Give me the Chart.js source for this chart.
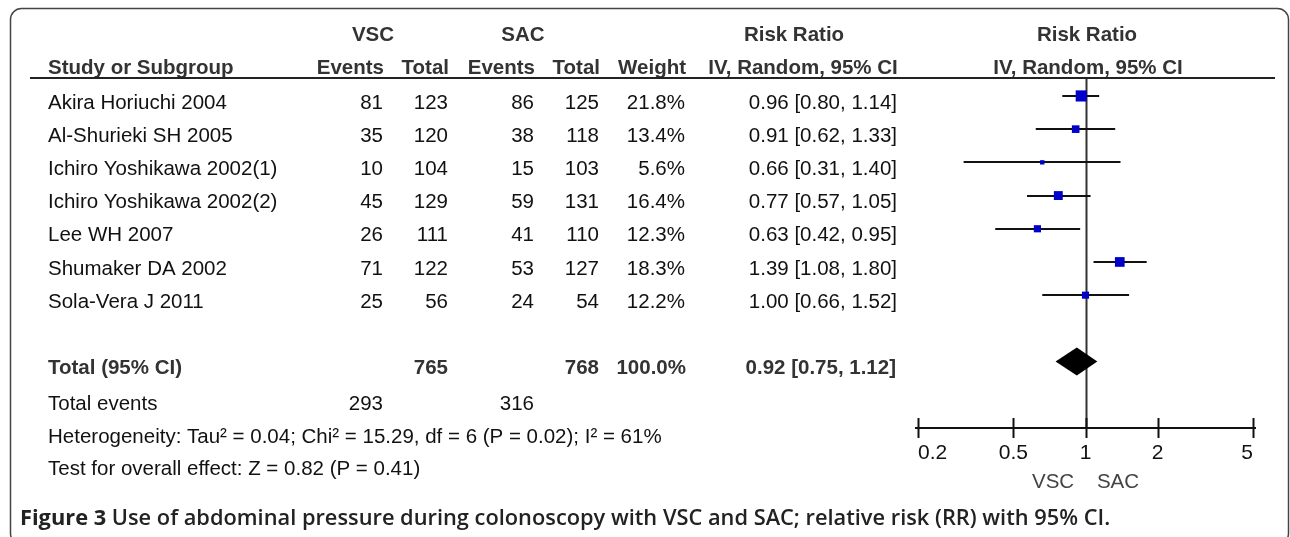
<!DOCTYPE html>
<html>
<head>
<meta charset="utf-8">
<script src="https://cdn.jsdelivr.net/npm/chart.js@4.4.1/dist/chart.umd.min.js"></script>
<style>
  body { margin: 0; background: #fff; }
  #wrap { width: 1290px; height: 537px; position: relative; }
</style>
</head>
<body>
<div id="wrap"><canvas id="forest"></canvas></div>
<script>
// study rows
const studies = [
  "Akira Horiuchi 2004",
  "Al-Shurieki SH 2005",
  "Ichiro Yoshikawa 2002(1)",
  "Ichiro Yoshikawa 2002(2)",
  "Lee WH 2007",
  "Shumaker DA 2002",
  "Sola-Vera J 2011",
];
const vscEvents = [81, 35, 10, 45, 26, 71, 25];
const vscTotal = [123, 120, 104, 129, 111, 122, 56];
const sacEvents = [86, 38, 15, 59, 41, 53, 24];
const sacTotal = [125, 118, 103, 131, 110, 127, 54];
const weights = [21.8, 13.4, 5.6, 16.4, 12.3, 18.3, 12.2];
const riskRatio = [0.96, 0.91, 0.66, 0.77, 0.63, 1.39, 1.0];
const ciLower = [0.8, 0.62, 0.31, 0.57, 0.42, 1.08, 0.66];
const ciUpper = [1.14, 1.33, 1.4, 1.05, 0.95, 1.8, 1.52];

// pooled result
const pooled = [0.92, 0.75, 1.12]; // estimate, lower, upper
const pooledTotals = [765, 768];
const pooledWeight = "100.0%";
const totalEvents = [293, 316];
const heterogeneityText =
  "Heterogeneity: Tau² = 0.04; Chi² = 15.29, df = 6 (P = 0.02); I² = 61%";
const overallText = "Test for overall effect: Z = 0.82 (P = 0.41)";

const tickValues = [0.2, 0.5, 1, 2, 5];
const captionBold = "Figure 3";
const captionText =
  " Use of abdominal pressure during colonoscopy with VSC and SAC; relative risk (RR) with 95% CI.";

const FONT = "'Liberation Sans', Arial, sans-serif";
const TOTAL_ROW = 8;

const fmt = (v) => v.toFixed(2);
const rrLabel = (i) =>
  `${fmt(riskRatio[i])} [${fmt(ciLower[i])}, ${fmt(ciUpper[i])}]`;

// square side grows with the weight
const squareRadius = weights.map((w) => (2 + 0.42 * w) / Math.SQRT2);

const text = (ctx, str, x, y, align, font, color) => {
  ctx.font = font;
  ctx.fillStyle = color;
  ctx.textAlign = align;
  ctx.textBaseline = "middle";
  ctx.fillText(str, x, y);
};

// whiskers, line of no effect, pooled diamond
const forestPlugin = {
  id: "forestMarks",
  beforeDatasetsDraw(chart) {
    const { ctx, scales, chartArea } = chart;
    const x = scales.x;
    const y = scales.y;
    ctx.save();
    // line of no effect
    const x1 = Math.round(x.getPixelForValue(1)) + 0.5;
    ctx.strokeStyle = "#333";
    ctx.lineWidth = 2;
    ctx.beginPath();
    ctx.moveTo(x1, chartArea.top);
    ctx.lineTo(x1, chartArea.bottom);
    ctx.stroke();
    // confidence intervals
    ctx.strokeStyle = "#111";
    ctx.lineWidth = 2;
    studies.forEach((s, i) => {
      const py = Math.round(y.getPixelForValue(i));
      ctx.beginPath();
      ctx.moveTo(x.getPixelForValue(ciLower[i]), py);
      ctx.lineTo(x.getPixelForValue(ciUpper[i]), py);
      ctx.stroke();
    });
    // diamond
    const dy = y.getPixelForValue(TOTAL_ROW);
    ctx.fillStyle = "#000";
    ctx.beginPath();
    ctx.moveTo(x.getPixelForValue(pooled[1]), dy);
    ctx.lineTo(x.getPixelForValue(pooled[0]), dy - 14);
    ctx.lineTo(x.getPixelForValue(pooled[2]), dy);
    ctx.lineTo(x.getPixelForValue(pooled[0]), dy + 14);
    ctx.closePath();
    ctx.fill();
    // x axis line with ticks crossing it
    ctx.strokeStyle = "#111";
    ctx.lineWidth = 2;
    const ay = chartArea.bottom;
    ctx.beginPath();
    ctx.moveTo(x.getPixelForValue(tickValues[0]) - 3, ay);
    ctx.lineTo(x.getPixelForValue(tickValues[tickValues.length - 1]) + 3, ay);
    tickValues.forEach((t) => {
      const tx = Math.round(x.getPixelForValue(t)) + 0.5;
      ctx.moveTo(tx, ay - 10);
      ctx.lineTo(tx, ay + 10);
    });
    ctx.stroke();
    ctx.restore();
  },
  afterDraw(chart) {
    const { ctx, scales } = chart;
    const y = scales.y;
    const head = `bold 20.5px ${FONT}`;
    const body = `20.5px ${FONT}`;
    const headColor = "#333";
    const bodyColor = "#111";
    ctx.save();

    // frame
    ctx.strokeStyle = "#444";
    ctx.lineWidth = 1.5;
    ctx.beginPath();
    ctx.roundRect(10.5, 8.5, 1278, 536, 11);
    ctx.stroke();

    // header
    text(ctx, "VSC", 373, 35, "center", head, headColor);
    text(ctx, "SAC", 523, 35, "center", head, headColor);
    text(ctx, "Risk Ratio", 794, 35, "center", head, headColor);
    text(ctx, "Risk Ratio", 1087, 35, "center", head, headColor);
    text(ctx, "Study or Subgroup", 48, 68, "left", head, headColor);
    text(ctx, "Events", 384, 68, "right", head, headColor);
    text(ctx, "Total", 449, 68, "right", head, headColor);
    text(ctx, "Events", 535, 68, "right", head, headColor);
    text(ctx, "Total", 600, 68, "right", head, headColor);
    text(ctx, "Weight", 686, 68, "right", head, headColor);
    text(ctx, "IV, Random, 95% CI", 803, 68, "center", head, headColor);
    text(ctx, "IV, Random, 95% CI", 1088, 68, "center", head, headColor);

    ctx.strokeStyle = "#222";
    ctx.lineWidth = 2;
    ctx.beginPath();
    ctx.moveTo(30, 78);
    ctx.lineTo(1275, 78);
    ctx.stroke();

    // study rows
    studies.forEach((s, i) => {
      const ty = y.getPixelForValue(i) + 7;
      text(ctx, s, 48, ty, "left", body, bodyColor);
      text(ctx, String(vscEvents[i]), 383, ty, "right", body, bodyColor);
      text(ctx, String(vscTotal[i]), 448, ty, "right", body, bodyColor);
      text(ctx, String(sacEvents[i]), 534, ty, "right", body, bodyColor);
      text(ctx, String(sacTotal[i]), 599, ty, "right", body, bodyColor);
      text(ctx, weights[i].toFixed(1) + "%", 685, ty, "right", body, bodyColor);
      text(ctx, rrLabel(i), 897, ty, "right", body, bodyColor);
    });

    // total row
    const tty = y.getPixelForValue(TOTAL_ROW) + 7;
    text(ctx, "Total (95% CI)", 48, tty, "left", head, headColor);
    text(ctx, String(pooledTotals[0]), 448, tty, "right", head, headColor);
    text(ctx, String(pooledTotals[1]), 599, tty, "right", head, headColor);
    text(ctx, pooledWeight, 686, tty, "right", head, headColor);
    text(ctx, `${fmt(pooled[0])} [${fmt(pooled[1])}, ${fmt(pooled[2])}]`, 896, tty, "right", head, headColor);

    text(ctx, "Total events", 48, 404, "left", body, bodyColor);
    text(ctx, String(totalEvents[0]), 383, 404, "right", body, bodyColor);
    text(ctx, String(totalEvents[1]), 534, 404, "right", body, bodyColor);
    text(ctx, heterogeneityText, 48, 437, "left", body, bodyColor);
    text(ctx, overallText, 48, 469, "left", body, bodyColor);

    // caption
    const capBold = `bold 21.8px 'Open Sans', sans-serif`;
    const capRest = `600 21.8px 'Open Sans', sans-serif`;
    ctx.font = capBold;
    const bw = ctx.measureText(captionBold).width;
    text(ctx, captionBold, 20, 519, "left", capBold, "#222");
    text(ctx, captionText, 20 + bw, 519, "left", capRest, "#222");
    ctx.restore();
  },
};

const ctx = document.getElementById("forest").getContext("2d");
new Chart(ctx, {
  type: "scatter",
  data: {
    datasets: [
      {
        data: studies.map((s, i) => ({ x: riskRatio[i], y: i })),
        pointStyle: "rect",
        pointRadius: squareRadius,
        pointHoverRadius: squareRadius,
        backgroundColor: "#0000c8",
        borderWidth: 0,
      },
    ],
  },
  options: {
    responsive: true,
    maintainAspectRatio: false,
    animation: false,
    events: [],
    layout: { padding: { left: 918, right: 37, top: 78, bottom: 0 } },
    plugins: { legend: { display: false }, tooltip: { enabled: false } },
    scales: {
      x: {
        type: "logarithmic",
        min: tickValues[0],
        max: tickValues[tickValues.length - 1],
        afterBuildTicks: (scale) => {
          scale.ticks = tickValues.map((v) => ({ value: v }));
        },
        afterFit: (scale) => {
          scale.height = 109;
        },
        grid: { display: false, drawTicks: false },
        border: { display: false },
        ticks: {
          align: "inner",
          padding: 13,
          color: "#111",
          font: { family: FONT, size: 21 },
          callback: (v) => String(v),
        },
        title: {
          display: true,
          text: "VSC    SAC",
          color: "#444",
          font: { family: FONT, size: 20.5 },
          padding: { top: 0, bottom: 42 },
        },
      },
      y: {
        type: "linear",
        reverse: true,
        min: -0.54,
        max: 10,
        display: false,
      },
    },
  },
  plugins: [forestPlugin],
});
</script>
</body>
</html>
